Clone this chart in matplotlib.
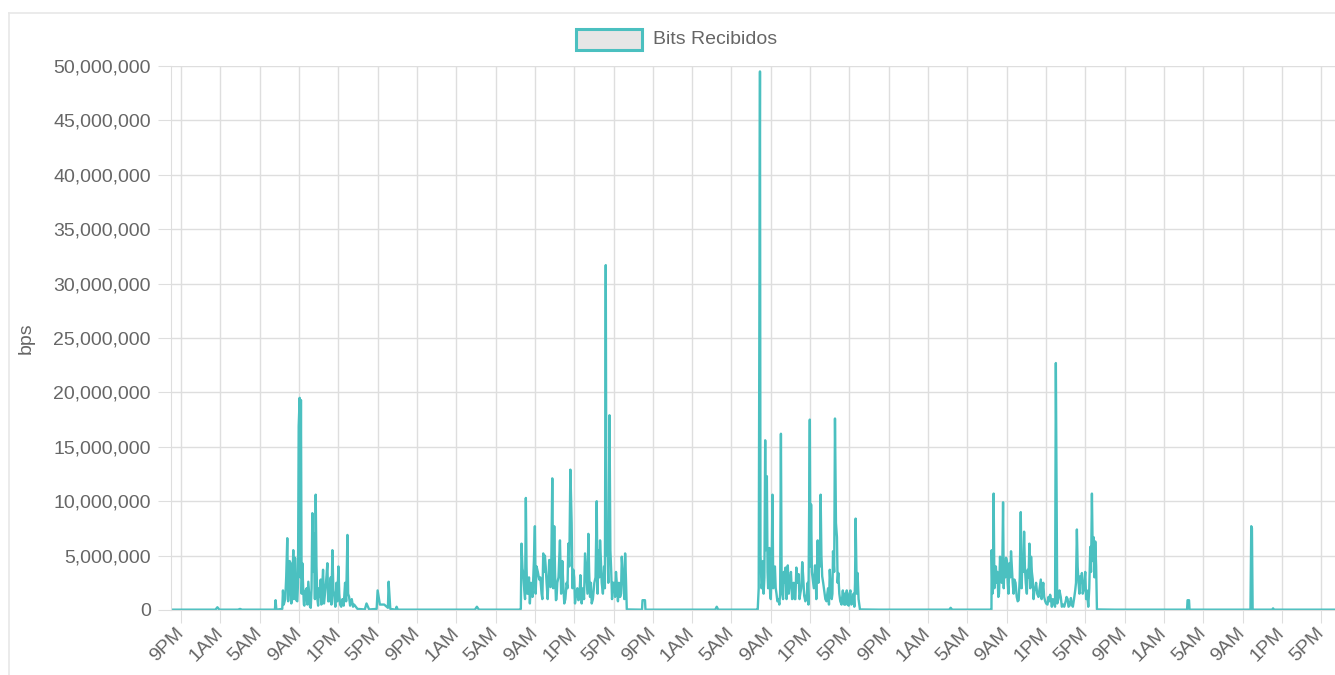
import matplotlib
matplotlib.use("Agg")
from matplotlib import pyplot as plt
from matplotlib.patches import Rectangle
from matplotlib.lines import Line2D
from matplotlib.ticker import FuncFormatter

plt.rcParams['font.family'] = ['Liberation Sans', 'DejaVu Sans']

# horas desde la medianoche del primer dia, valores en millones de bps
noche0_h = [20.0, 24.5, 24.7, 24.9, 26.8, 27.0, 27.2, 30.4]
noche0_v = [0.03, 0.03, 0.25, 0.03, 0.03, 0.1, 0.03, 0.03]

dia1_h = [30.55, 30.62, 30.7, 31.3, 31.37, 31.6, 31.81, 31.98, 32.15, 32.3, 32.42, 32.55,
          32.66, 32.83, 32.97, 33.07, 33.2, 33.34, 33.5, 33.61, 33.78, 33.95, 34.12, 34.36,
          34.53, 34.7, 34.87, 35.04, 35.21, 35.33, 35.45, 35.65, 35.89, 36.06, 36.23, 36.4,
          36.6, 36.81, 37.01, 37.18, 37.42, 37.69, 37.93, 38.1, 38.37, 38.61, 38.95, 39.7,
          39.87, 40.14, 40.9, 41.0, 41.23, 41.67, 42.05, 42.12, 42.29, 42.85, 42.93, 43.05]
dia1_v = [0.03, 0.9, 0.03, 0.1, 1.8, 1.0, 6.6, 2.0, 4.3, 1.2, 5.5, 2.0,
          3.5, 0.8, 16.9, 19.5, 19.3, 4.3, 0.5, 1.0, 2.0, 2.6, 0.3, 8.9,
          7.0, 10.6, 1.0, 2.0, 2.8, 0.6, 3.7, 1.5, 4.3, 0.8, 3.0, 5.5,
          1.2, 2.5, 4.0, 0.5, 1.0, 2.5, 6.9, 1.2, 1.0, 0.5, 0.1, 0.05,
          0.6, 0.05, 0.1, 1.8, 0.5, 0.5, 0.2, 2.6, 0.1, 0.03, 0.3, 0.03]
# oscilaciones bajas que rellenan la zona activa
dia1_extra_h = [31.45, 31.7, 31.9, 32.05, 32.22, 32.36, 32.48, 32.6, 32.72, 32.9, 33.13, 33.27,
                33.42, 33.55, 33.68, 33.86, 34.03, 34.2, 34.28, 34.45, 34.62, 34.78, 34.95, 35.1,
                35.27, 35.4, 35.55, 35.75, 35.97, 36.15, 36.3, 36.5, 36.7, 36.9, 37.1, 37.3,
                37.55, 37.8, 38.0, 38.2, 38.5]
dia1_extra_v = [0.5, 3.0, 0.8, 4.5, 0.6, 3.5, 1.0, 4.8, 0.9, 2.5, 3.0, 1.5,
                2.2, 0.4, 1.8, 0.5, 1.5, 0.2, 2.0, 3.5, 1.0, 4.0, 0.4, 1.2,
                0.5, 2.8, 0.6, 2.5, 0.8, 2.0, 0.5, 1.8, 0.3, 0.8, 1.5, 0.3,
                0.4, 0.8, 1.5, 0.4, 0.3]

noche1_h = [45.0, 50.9, 51.1, 51.3, 55.5]
noche1_v = [0.03, 0.03, 0.3, 0.03, 0.03]

dia2_h = [55.57, 55.64, 55.74, 55.91, 56.08, 56.22, 56.32, 56.49, 56.76, 57.0, 57.17, 57.44,
          57.68, 57.85, 58.02, 58.19, 58.46, 58.6, 58.77, 58.97, 59.14, 59.28, 59.55, 59.79,
          59.99, 60.23, 60.4, 60.61, 60.74, 60.91, 61.08, 61.42, 61.63, 61.76, 62.1, 62.27,
          62.44, 62.61, 62.78, 63.05, 63.29, 63.46, 63.63, 63.8, 64.04, 64.21, 64.35, 64.59,
          64.76, 64.93, 65.16, 65.33, 65.67, 65.84, 66.01, 66.18, 66.35]
dia2_v = [0.1, 6.1, 3.8, 2.0, 10.3, 1.5, 1.5, 0.6, 1.2, 7.7, 4.0, 2.8,
          1.5, 5.2, 5.0, 2.5, 4.6, 2.1, 12.1, 7.7, 0.9, 2.5, 6.4, 4.5,
          0.6, 2.5, 6.1, 12.9, 8.0, 3.7, 0.6, 0.9, 3.2, 0.6, 5.2, 2.5,
          7.0, 1.2, 0.6, 2.5, 10.0, 5.5, 6.4, 2.5, 4.0, 31.7, 8.0, 17.9,
          3.7, 2.5, 1.2, 2.5, 1.2, 4.9, 2.5, 5.2, 0.05]
dia2_extra_h = [55.8, 56.0, 56.15, 56.4, 56.6, 56.9, 57.08, 57.3, 57.55, 57.76, 57.93, 58.1,
                58.3, 58.53, 58.68, 58.87, 59.05, 59.2, 59.4, 59.67, 59.88, 60.1, 60.32, 60.5,
                60.82, 61.0, 61.2, 61.32, 61.52, 61.9, 62.0, 62.18, 62.35, 62.52, 62.7, 62.9,
                63.17, 63.38, 63.55, 63.72, 63.92, 64.12, 64.28, 64.47, 64.68, 64.85, 65.05, 65.25,
                65.45, 65.55, 65.76, 65.93, 66.1, 66.26]
dia2_extra_v = [3.5, 1.0, 4.0, 3.0, 2.5, 4.5, 1.5, 3.5, 3.0, 1.0, 3.5, 4.0,
                1.0, 3.0, 5.0, 2.0, 3.5, 1.0, 3.0, 1.5, 2.5, 1.0, 2.0, 4.0,
                2.0, 3.0, 1.5, 2.0, 1.0, 2.0, 1.0, 4.0, 1.5, 3.5, 2.5, 1.0,
                3.0, 1.5, 3.0, 4.5, 1.5, 2.0, 5.0, 2.5, 5.5, 1.0, 2.5, 3.5,
                0.8, 2.5, 1.5, 3.5, 1.0, 3.0]

noche2_h = [67.9, 67.95, 68.2, 68.25, 75.35, 75.5, 75.65, 79.6]
noche2_v = [0.03, 0.9, 0.9, 0.03, 0.03, 0.3, 0.03, 0.03]

dia3_h = [79.67, 79.77, 79.9, 80.0, 80.13, 80.27, 80.43, 80.6, 80.73, 80.87, 81.0, 81.17,
          81.33, 81.5, 81.67, 81.87, 82.03, 82.17, 82.33, 82.5, 82.6, 82.73, 82.93, 83.17,
          83.33, 83.43, 83.6, 83.83, 84.0, 84.2, 84.4, 84.67, 84.83, 84.97, 85.1, 85.27,
          85.5, 85.63, 85.77, 85.93, 86.07, 86.23, 86.43, 86.67, 86.83, 87.0, 87.2, 87.33,
          87.53, 87.73, 87.87, 88.07, 88.33, 88.47, 88.6, 88.73, 88.93, 89.1, 89.33, 89.5,
          89.63, 89.83, 89.93, 90.07]
dia3_v = [0.05, 2.0, 49.5, 4.0, 2.5, 1.5, 15.6, 12.3, 2.0, 5.7, 1.0, 10.6,
          3.4, 2.0, 0.8, 0.5, 16.2, 1.5, 3.5, 3.9, 1.0, 4.1, 2.5, 1.0,
          2.5, 1.0, 3.9, 3.3, 1.5, 4.4, 1.3, 1.5, 0.5, 17.5, 9.7, 2.8,
          4.1, 1.0, 6.4, 5.4, 10.6, 3.1, 1.8, 0.8, 2.0, 3.7, 1.0, 5.4,
          17.6, 6.7, 3.4, 0.8, 1.8, 0.5, 0.5, 1.8, 0.4, 1.8, 0.8, 0.3,
          8.4, 3.4, 1.0, 0.05]
dia3_extra_h = [79.95, 80.05, 80.2, 80.35, 80.5, 80.67, 80.8, 80.93, 81.08, 81.25, 81.42, 81.58,
                81.77, 81.95, 82.1, 82.25, 82.42, 82.67, 82.83, 83.05, 83.25, 83.5, 83.7, 83.92,
                84.1, 84.3, 84.52, 84.75, 85.03, 85.18, 85.38, 85.57, 85.85, 86.0, 86.15, 86.33,
                86.55, 86.75, 86.92, 87.1, 87.27, 87.45, 87.63, 87.8, 87.97, 88.2, 88.4, 88.53,
                88.67, 88.83, 89.0, 89.2, 89.42, 89.57, 89.75]
dia3_extra_v = [5.0, 2.0, 4.5, 3.0, 5.5, 3.5, 4.0, 1.5, 3.5, 2.0, 4.0, 1.5,
                1.0, 1.5, 3.0, 1.0, 2.5, 3.0, 1.5, 3.5, 1.5, 1.0, 2.5, 1.0,
                2.0, 3.0, 0.8, 2.5, 4.0, 3.5, 2.0, 3.0, 2.5, 4.0, 5.0, 2.5,
                1.0, 1.5, 0.5, 2.0, 1.5, 3.5, 8.0, 2.5, 1.5, 0.5, 1.0, 1.5,
                1.0, 0.5, 1.5, 0.5, 1.5, 2.5, 1.5]

noche3_h = [92.0, 99.15, 99.3, 99.45, 103.4]
noche3_v = [0.03, 0.03, 0.2, 0.03, 0.03]

dia4_h = [103.45, 103.47, 103.55, 103.67, 103.81, 103.98, 104.15, 104.32, 104.49, 104.63,
          104.76, 104.93, 105.1, 105.27, 105.44, 105.61, 105.78, 106.02, 106.22, 106.43,
          106.6, 106.77, 106.94, 107.14, 107.31, 107.48, 107.65, 107.82, 107.99, 108.23,
          108.47, 108.64, 108.81, 109.01, 109.25, 109.42, 109.59, 109.83, 110.0, 110.14,
          110.37, 110.61, 110.85, 111.09, 111.29, 111.53, 111.73, 111.97, 112.14, 112.31,
          112.48, 112.65, 112.82, 112.99, 113.16, 113.3, 113.5, 113.67, 113.84, 114.01, 114.18]
dia4_v = [0.05, 5.5, 1.5, 10.7, 3.1, 2.5, 1.2, 4.9, 2.5, 9.9,
          4.3, 4.8, 2.5, 4.3, 5.4, 2.5, 2.8, 1.2, 0.9, 9.0,
          4.9, 7.2, 2.5, 3.7, 6.1, 4.9, 2.8, 1.8, 2.5, 1.2,
          2.8, 1.8, 1.2, 0.6, 1.2, 1.4, 0.3, 0.6, 22.7, 0.6,
          1.8, 0.3, 0.3, 1.2, 0.3, 1.1, 0.3, 1.8, 7.4, 2.5,
          3.1, 3.4, 1.8, 3.5, 1.8, 0.3, 5.8, 10.7, 6.7, 6.3, 0.05]
dia4_extra_h = [103.52, 103.62, 103.75, 103.9, 104.05, 104.22, 104.4, 104.56, 104.7, 104.85,
                105.02, 105.18, 105.35, 105.52, 105.7, 105.9, 106.12, 106.33, 106.52, 106.68,
                106.85, 107.05, 107.22, 107.4, 107.56, 107.73, 107.9, 108.1, 108.35, 108.55,
                108.72, 108.92, 109.15, 109.33, 109.5, 109.7, 109.92, 110.25, 110.5, 110.75,
                111.0, 111.2, 111.4, 111.63, 111.85, 112.05, 112.22, 112.4, 112.56, 112.73,
                112.9, 113.08, 113.4, 113.58, 113.76, 113.93, 114.1]
dia4_extra_v = [3.0, 4.5, 2.0, 4.0, 3.5, 1.5, 3.5, 4.5, 2.0, 3.0,
                4.5, 1.5, 3.0, 4.0, 1.5, 2.5, 0.8, 3.0, 2.0, 3.5,
                4.0, 1.5, 3.0, 2.0, 3.5, 1.0, 2.0, 1.5, 2.0, 1.0,
                2.5, 0.8, 0.5, 0.8, 1.0, 1.0, 0.3, 1.0, 1.2, 0.5,
                0.8, 1.0, 0.4, 0.5, 1.0, 2.5, 4.0, 1.5, 2.5, 1.5,
                2.5, 1.0, 2.0, 3.5, 4.5, 3.0, 4.0]

final_h = [116.0, 123.35, 123.4, 123.55, 123.6, 129.8, 129.88, 129.95, 130.02, 132.0, 132.1, 132.2, 138.4]
final_v = [0.03, 0.03, 0.9, 0.9, 0.03, 0.03, 7.7, 7.5, 0.03, 0.03, 0.15, 0.03, 0.03]

# ticks cada 4 horas empezando a las 9PM
ticks_h = list(range(21, 138, 4))


def etiqueta_hora(h):
    h = int(h) % 24
    if h == 0:
        return "12AM"
    if h < 12:
        return f"{h}AM"
    if h == 12:
        return "12PM"
    return f"{h - 12}PM"


todas_h = (noche0_h + dia1_h + dia1_extra_h + noche1_h + dia2_h + dia2_extra_h + noche2_h
           + dia3_h + dia3_extra_h + noche3_h + dia4_h + dia4_extra_h + final_h)
todas_v = (noche0_v + dia1_v + dia1_extra_v + noche1_v + dia2_v + dia2_extra_v + noche2_v
           + dia3_v + dia3_extra_v + noche3_v + dia4_v + dia4_extra_v + final_v)
puntos = sorted(zip(todas_h, todas_v))  # ordenar por hora para que la linea no vuelva atras
horas = [p[0] for p in puntos]
bps = [p[1] * 1e6 for p in puntos]

W, H = 1335, 675
gris_txt = "#666666"
gris_grid = "#dedede"
turquesa = "#4bc0c0"

fig = plt.figure(figsize=(W / 100, H / 100), dpi=100)
ax = fig.add_axes([171 / W, 1 - 610 / H, (W - 171) / W, 544 / H])

ax.plot(horas, bps, color=turquesa, linewidth=1.7)

ax.set_xlim(19.98, 138.4)
ax.set_ylim(0, 50e6)
ax.set_yticks([i * 5e6 for i in range(11)])
ax.yaxis.set_major_formatter(FuncFormatter(lambda v, p: f"{int(v):,}"))
ax.set_xticks(ticks_h)
ax.set_xticklabels([etiqueta_hora(h) for h in ticks_h], rotation=45, ha="right",
                   rotation_mode="anchor", va="center")

ax.grid(True, color=gris_grid, linewidth=1)
ax.set_axisbelow(True)
for lado in ["top", "right"]:
    ax.spines[lado].set_visible(False)
for lado in ["left", "bottom"]:
    ax.spines[lado].set_color(gris_grid)
ax.tick_params(axis="y", length=9.5, color=gris_grid, pad=5, labelsize=14, labelcolor=gris_txt)
ax.tick_params(axis="x", length=9, color=gris_grid, pad=6, labelsize=14, labelcolor=gris_txt)

fig.text(26 / W, 1 - 338 / H, "bps", rotation=90, ha="center", va="center",
         fontsize=14, color=gris_txt)

# leyenda hecha a mano como la de chart.js
fig.patches.append(Rectangle((575.5 / W, 1 - 49.5 / H), 66 / W, 20 / H, transform=fig.transFigure,
                             facecolor="#e6e6e6", edgecolor=turquesa, linewidth=2.2))
fig.text(653 / W, 1 - 39 / H, "Bits Recibidos", ha="left", va="center", fontsize=14, color=gris_txt)

# marco del contenedor
fig.lines.append(Line2D([8.5 / W, 8.5 / W], [0, 1 - 12.5 / H], transform=fig.transFigure,
                        color="#e8e8e8", linewidth=1.2))
fig.lines.append(Line2D([8.5 / W, 1], [1 - 12.5 / H, 1 - 12.5 / H], transform=fig.transFigure,
                        color="#e8e8e8", linewidth=1.2))

fig.savefig("out.png", dpi=100, facecolor="white")
